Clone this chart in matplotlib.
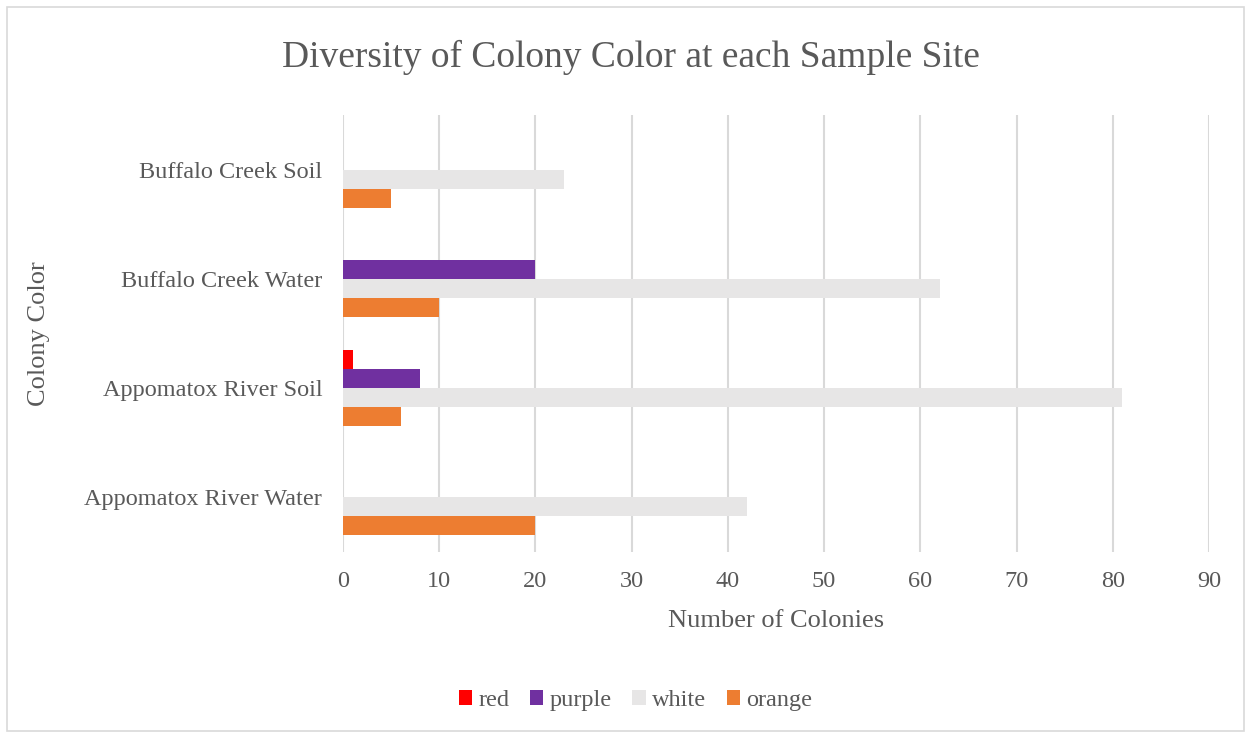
import numpy as np
import matplotlib
matplotlib.use("Agg")
import matplotlib.pyplot as plt
from matplotlib.patches import Rectangle

plt.rcParams['font.family'] = ['Liberation Serif', 'DejaVu Serif']

sites = ['Appomatox River Water', 'Appomatox River Soil', 'Buffalo Creek Water', 'Buffalo Creek Soil']
series_names = ['red', 'purple', 'white', 'orange']
series_colors = ['#ff0000', '#7030a0', '#e7e6e6', '#ed7d31']
red = [0, 1, 0, 0]
purple = [0, 8, 20, 0]
white = [42, 81, 62, 23]
orange = [20, 6, 10, 5]
values = [red, purple, white, orange]

text_col = '#595959'
grid_col = '#d9d9d9'

fig = plt.figure(figsize=(12.51, 7.38), dpi=100)
ax = fig.add_axes([0.2742, 0.2527, 0.6922, 0.5908])

y = np.arange(len(sites))
h = 0.174
# red on top, orange at the bottom of each group
offsets = [1.5 * h, 0.5 * h, -0.5 * h, -1.5 * h]
for vals, name, col, off in zip(values, series_names, series_colors, offsets):
    ax.barh(y + off, vals, height=h, color=col, label=name, zorder=3)

ax.set_xlim(0, 90)
ax.set_ylim(-0.5, len(sites) - 0.5)
ax.set_xticks(np.arange(0, 91, 10))
ax.set_yticks(y)
ax.set_yticklabels(sites)
ax.tick_params(length=0, labelsize=17.5, labelcolor=text_col)
ax.tick_params(axis='x', pad=14)
ax.tick_params(axis='y', pad=15)
ax.grid(axis='x', color=grid_col, linewidth=1.5, zorder=0)
for s in ax.spines.values():
    s.set_visible(False)

ax.set_xlabel('Number of Colonies', fontsize=19, color=text_col, labelpad=13)
ax.set_ylabel('Colony Color', fontsize=19, color=text_col, labelpad=25)
fig.text(0.504, 0.922, 'Diversity of Colony Color at each Sample Site',
         ha='center', va='center', fontsize=27, color=text_col)

leg = fig.legend(loc='center', bbox_to_anchor=(0.508, 0.051), ncol=4, frameon=False,
                 fontsize=17.5, handlelength=0.55, handleheight=0.55, handletextpad=0.25,
                 columnspacing=0.85)
for t in leg.get_texts():
    t.set_color(text_col)

fig.patches.append(Rectangle((7 / 1251, 7 / 738), 1237 / 1251, 724 / 738,
                             transform=fig.transFigure, fill=False,
                             edgecolor='#d9d9d9', linewidth=1.2))

fig.savefig('out.png', dpi=100)
